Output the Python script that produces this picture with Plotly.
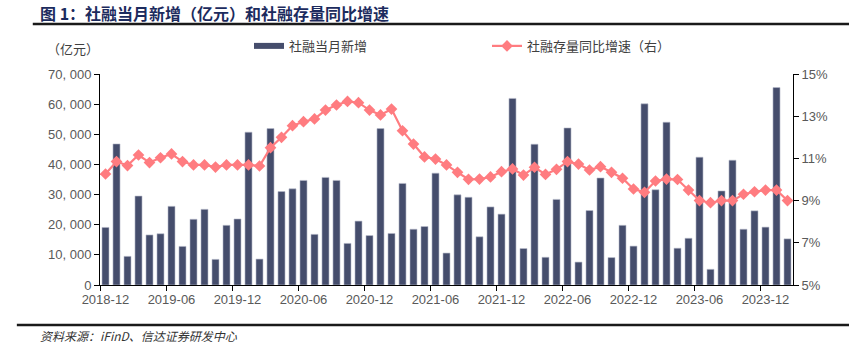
import plotly.graph_objects as go

months = [f"{y}-{m:02d}" for y, m in
          [(2018, 12)] + [(y, m) for y in range(2019, 2024) for m in range(1, 13)] + [(2024, 1), (2024, 2)]]

tsf_new = [19100, 46800, 9500, 29500, 16600, 17000, 26100, 12800, 21800, 25100, 8500, 19800,
           21900, 50700, 8600, 51900, 31000, 31900, 34700, 16800, 35700, 34700, 13800, 21200,
           16400, 51900, 17100, 33700, 18500, 19400, 37100, 10600, 29900, 29100, 16000, 25900,
           23500, 61900, 12100, 46700, 9200, 28400, 52100, 7600, 24700, 35500, 9100, 19800,
           12900, 60100, 31600, 54000, 12200, 15500, 42400, 5200, 31200, 41400, 18500, 24600,
           19200, 65500, 15300]

tsf_yoy = [10.26, 10.85, 10.66, 11.16, 10.80, 11.03, 11.21, 10.85, 10.69, 10.69, 10.59, 10.69,
           10.69, 10.69, 10.64, 11.51, 12.00, 12.55, 12.74, 12.87, 13.29, 13.53, 13.70, 13.64,
           13.29, 13.06, 13.34, 12.31, 11.68, 11.07, 10.97, 10.69, 10.34, 10.01, 10.02, 10.12,
           10.37, 10.50, 10.21, 10.58, 10.24, 10.48, 10.85, 10.73, 10.45, 10.61, 10.34, 10.06,
           9.55, 9.39, 9.93, 10.02, 10.00, 9.50, 9.00, 8.90, 9.00, 9.00, 9.30, 9.42,
           9.50, 9.50, 9.00]

left_ticks = [0, 10000, 20000, 30000, 40000, 50000, 60000, 70000]
left_labels = ["0", "10, 000", "20, 000", "30, 000", "40, 000", "50, 000", "60, 000", "70, 000"]
right_ticks = [5, 7, 9, 11, 13, 15]
right_labels = ["5%", "7%", "9%", "11%", "13%", "15%"]

BAR = "#454d6c"
LINE = "#ff7c80"
TXT = "#595959"
FONT = "Liberation Sans, Noto Sans CJK SC, sans-serif"
CJK = "Noto Sans CJK SC, sans-serif"

fig = go.Figure()
fig.add_trace(go.Bar(x=months, y=tsf_new, name="社融当月新增", marker=dict(color=BAR, line=dict(color="#b8bccb", width=0.6)),
                     showlegend=False, yaxis="y"))
# legend stand-in for bars (wide rectangle swatch)
fig.add_trace(go.Scatter(x=[None], y=[None], mode="lines", name="社融当月新增",
                         line=dict(color=BAR, width=6), yaxis="y"))
fig.add_trace(go.Scatter(x=months, y=tsf_yoy, name="社融存量同比增速（右）", mode="lines+markers",
                         line=dict(color=LINE, width=2.2),
                         marker=dict(symbol="diamond", size=9, color=LINE), yaxis="y2"))

fig.update_layout(
    width=849, height=353,
    margin=dict(l=100, r=56, t=74, b=68),
    paper_bgcolor="white", plot_bgcolor="white",
    bargap=0.36,
    font=dict(family=FONT, size=12, color=TXT),
    xaxis=dict(type="category", tickmode="linear", tick0=0, dtick=6, tickson="boundaries",
               ticks="outside", ticklen=5, tickcolor="black", showline=True, linecolor="black",
               linewidth=1, showgrid=False, tickfont=dict(size=13, color=TXT), tickangle=0,
               ticklabelstandoff=2, range=[-0.5, len(months) - 0.5]),
    yaxis=dict(range=[0, 70000], tickvals=left_ticks, ticktext=left_labels, ticks="outside",
               ticklen=5, tickcolor="black", showline=True, linecolor="black", linewidth=1,
               showgrid=False, zeroline=False, tickfont=dict(size=13, color=TXT)),
    yaxis2=dict(range=[5, 15], tickvals=right_ticks, ticktext=right_labels, overlaying="y",
                side="right", ticks="outside", ticklen=5, tickcolor="black", showline=True,
                linecolor="black", linewidth=1, showgrid=False, zeroline=False,
                tickfont=dict(size=13, color=TXT)),
    legend=dict(orientation="h", x=0.215, xanchor="left", y=1.133, yanchor="middle",
                font=dict(family=CJK, size=13, color="#404040"), entrywidth=193,
                bgcolor="rgba(0,0,0,0)", itemwidth=30, tracegroupgap=0),
)

fig.add_annotation(text="<b>图 1：社融当月新增（亿元）和社融存量同比增速</b>", xref="paper", yref="paper",
                   x=-0.09, xanchor="left", y=1.289, yanchor="middle", showarrow=False,
                   font=dict(family=CJK, size=16, color="#1c2b5e"))
fig.add_annotation(text="（亿元）", xref="paper", yref="paper", x=-0.08, xanchor="left",
                   y=1.12, yanchor="middle", showarrow=False,
                   font=dict(family=CJK, size=13, color="#404040"))
fig.add_annotation(text="<i>资料来源：iFinD、信达证券研发中心</i>", xref="paper", yref="paper",
                   x=-0.09, xanchor="left", y=-0.237, yanchor="middle", showarrow=False,
                   font=dict(family=CJK, size=12, color="#333333"))
fig.add_shape(type="line", xref="paper", yref="paper", x0=-0.097, x1=1.081, y0=1.237, y1=1.237,
              line=dict(color="#1a1a1a", width=2.5))
fig.add_shape(type="line", xref="paper", yref="paper", x0=-0.12, x1=1.081, y0=-0.19, y1=-0.19,
              line=dict(color="#1a1a1a", width=2.5))

fig.write_html("out.html")
